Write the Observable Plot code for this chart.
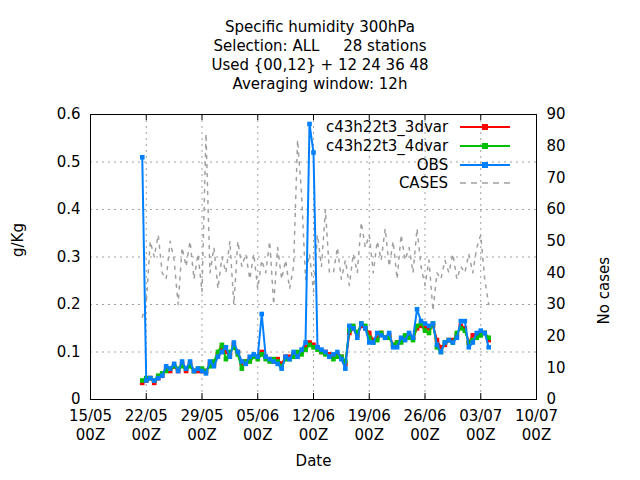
<!DOCTYPE html>
<html><head><meta charset="utf-8">
<script src="https://cdn.jsdelivr.net/npm/d3@7"></script>
<script src="https://cdn.jsdelivr.net/npm/@observablehq/plot@0.6"></script>
<style>
body{margin:0;background:#fff;font-family:"DejaVu Sans",sans-serif;}
#wrap{position:relative;width:640px;height:480px;overflow:hidden;}
#title{height:100px;text-align:center;font-size:15px;line-height:19px;padding-top:18px;box-sizing:border-box;}
#chart svg{display:block;}
#legend{position:absolute;left:250px;top:118px;font-size:15px;}
.lg{display:flex;align-items:center;height:18.7px;justify-content:flex-end;}
.lg span{margin-right:12px;}
</style></head><body>
<div id="wrap">
<div id="title"><div>Specific humidity 300hPa</div><div>Selection: ALL &nbsp;&nbsp;&nbsp;&nbsp;28 stations</div><div>Used {00,12} + 12 24 36 48</div><div>Averaging window: 12h</div></div>
<div id="chart"></div>
<div id="legend"></div>
</div>
<script>
// 12h steps starting 21/05 12Z
const start = new Date(Date.UTC(2024, 4, 21, 12));
const obs = [0.51,
  0.04,0.045, 0.04,0.045, 0.05,0.07, 0.065,0.075, 0.06,0.08, 0.065,0.08, 0.06,0.065,
  0.06,0.055, 0.08,0.07, 0.09,0.1, 0.11,0.09, 0.12,0.1, 0.08,0.075, 0.09,0.095,
  0.09,0.18, 0.09,0.085, 0.08,0.075, 0.065,0.09, 0.085,0.1, 0.09,0.105, 0.12,0.58,
  0.52,0.11, 0.105,0.1, 0.09,0.095, 0.1,0.085, 0.065,0.155, 0.15,0.13, 0.16,0.15,
  0.12,0.12, 0.14,0.135, 0.13,0.14, 0.11,0.11, 0.13,0.125, 0.14,0.13, 0.19,0.165,
  0.16,0.155, 0.16,0.115, 0.1,0.12, 0.125,0.12, 0.13,0.165, 0.165,0.11, 0.12,0.14,
  0.145,0.14, 0.11];
const var3d = [0.035,
  0.04,0.045, 0.035,0.045, 0.05,0.065, 0.06,0.07, 0.06,0.075, 0.06,0.075, 0.06,0.06,
  0.06,0.06, 0.075,0.075, 0.095,0.11, 0.1,0.095, 0.115,0.1, 0.075,0.08, 0.085,0.09,
  0.09,0.1, 0.09,0.085, 0.08,0.085, 0.075,0.09, 0.09,0.095, 0.095,0.1, 0.11,0.12,
  0.115,0.11, 0.1,0.1, 0.095,0.09, 0.095,0.09, 0.075,0.14, 0.15,0.135, 0.155,0.15,
  0.14,0.125, 0.13,0.14, 0.13,0.135, 0.115,0.12, 0.125,0.13, 0.135,0.13, 0.15,0.155,
  0.15,0.15, 0.155,0.125, 0.11,0.115, 0.125,0.125, 0.135,0.155, 0.15,0.12, 0.135,0.135,
  0.14,0.14, 0.125];
const var4d = [0.04,
  0.045,0.045, 0.04,0.05, 0.055,0.06, 0.065,0.07, 0.065,0.07, 0.065,0.07, 0.06,0.065,
  0.065,0.06, 0.07,0.08, 0.1,0.115, 0.085,0.1, 0.11,0.095, 0.065,0.08, 0.08,0.09,
  0.085,0.095, 0.085,0.08, 0.085,0.08, 0.07,0.085, 0.085,0.09, 0.1,0.095, 0.105,0.115,
  0.11,0.105, 0.1,0.095, 0.09,0.085, 0.09,0.09, 0.08,0.145, 0.155,0.14, 0.16,0.155,
  0.13,0.12, 0.125,0.14, 0.13,0.13, 0.115,0.12, 0.12,0.135, 0.13,0.125, 0.155,0.16,
  0.145,0.14, 0.16,0.11, 0.1,0.12, 0.125,0.12, 0.14,0.15, 0.145,0.12, 0.125,0.13,
  0.135,0.14, 0.13];
const cases = [26,30,50,45,52,40,38,50,44,30,
  48,42,50,38,46,34,84,40,48,35,
  45,40,50,30,50,42,46,38,46,35,
  44,40,50,30,48,38,44,35,42,82,
  65,38,46,34,52,42,60,40,40,48,
  38,44,36,46,40,56,48,52,40,50,
  44,54,42,50,38,52,44,48,40,54,
  42,36,44,28,40,38,44,40,46,38,
  42,40,46,40,48,52,38,30];
const xTicks = ["2024-05-15","2024-05-22","2024-05-29","2024-06-05","2024-06-12","2024-06-19","2024-06-26","2024-07-03","2024-07-10"].map(s => new Date(s + "T00:00Z"));
const yTicks = [0,0.1,0.2,0.3,0.4,0.5,0.6];
const caseTicks = [0,10,20,30,40,50,60,70,80,90];

const t = i => new Date(start.getTime() + i * 12 * 3600e3);
const rows = arr => arr.map((v, i) => ({date: t(i), v}));
const series = [
  {name: "c43h22t3_3dvar", data: rows(var3d), color: "#ff0000"},
  {name: "c43h22t3_4dvar", data: rows(var4d), color: "#00c000"},
  {name: "OBS", data: rows(obs), color: "#0080ff"}
];
const caseRows = rows(cases);
const k = 0.6 / 90; // right axis → left axis
const tk = 0.6 * 6 / 285; // inward tick length in data units

const fmt = d3.utcFormat("%d/%m");
const marks = [
  Plot.gridX(xTicks, {stroke: "#a0a0a0", strokeOpacity: 1, strokeDasharray: "2,4"}),
  Plot.gridY(yTicks, {stroke: "#a0a0a0", strokeOpacity: 1, strokeDasharray: "2,4"}),
  Plot.line(caseRows, {x: "date", y: d => d.v * k, stroke: "#a0a0a0", strokeWidth: 1.5, strokeDasharray: "3,6"}),
];
for (const s of series) {
  marks.push(Plot.line(s.data, {x: "date", y: "v", stroke: s.color, strokeWidth: 2}));
  marks.push(Plot.dot(s.data, {x: "date", y: "v", fill: s.color, symbol: "square", r: 2.6}));
}
marks.push(
  Plot.axisX(xTicks, {tickSize: 0, tickPadding: 8, fontSize: 15, tickFormat: d => fmt(d) + "\n00Z", label: null, lineHeight: 1.25}),
  Plot.ruleX(xTicks, {y1: 0, y2: tk, stroke: "black"}),
  Plot.ruleX(xTicks, {y1: 0.6 - tk, y2: 0.6, stroke: "black"}),
  Plot.axisY(yTicks, {tickSize: 0, tickPadding: 10, fontSize: 15, tickFormat: d => d === 0 ? "0" : String(d), label: null}),
  Plot.axisY(caseTicks.map(c => c * k), {anchor: "right", tickSize: 0, tickPadding: 10, fontSize: 15, tickFormat: d => String(Math.round(d / k)), label: null}),
  Plot.frame({stroke: "black"}),
  Plot.text(["Date"], {frameAnchor: "bottom", dy: 66, fontSize: 15}),
  Plot.text(["g/Kg"], {frameAnchor: "left", dx: -72, rotate: -90, fontSize: 15}),
  Plot.text(["No cases"], {frameAnchor: "right", dx: 68, rotate: -90, fontSize: 15})
);

const chart = Plot.plot({
  width: 640, height: 380,
  marginLeft: 90, marginRight: 104, marginTop: 14, marginBottom: 81,
  style: {fontFamily: "DejaVu Sans", fontSize: "15px", color: "black"},
  x: {type: "utc", domain: [xTicks[0], xTicks[8]]},
  y: {domain: [0, 0.6]},
  marks
});
document.getElementById("chart").append(chart);

// legend
const lg = document.getElementById("legend");
const items = series.map(s => ({name: s.name, color: s.color, dot: true})).concat([{name: "CASES", color: "#a0a0a0", dot: false}]);
for (const it of items) {
  const row = document.createElement("div");
  row.className = "lg";
  row.innerHTML = `<span>${it.name}</span><svg width="50" height="10"><line x1="0" x2="50" y1="5" y2="5" stroke="${it.color}" stroke-width="${it.dot ? 2 : 1.5}" ${it.dot ? "" : 'stroke-dasharray="6,5"'}/>${it.dot ? `<rect x="22" y="2" width="6" height="6" fill="${it.color}"/>` : ""}</svg>`;
  lg.append(row);
}
lg.style.left = (510 - lg.offsetWidth) + "px";
</script>
</body></html>
